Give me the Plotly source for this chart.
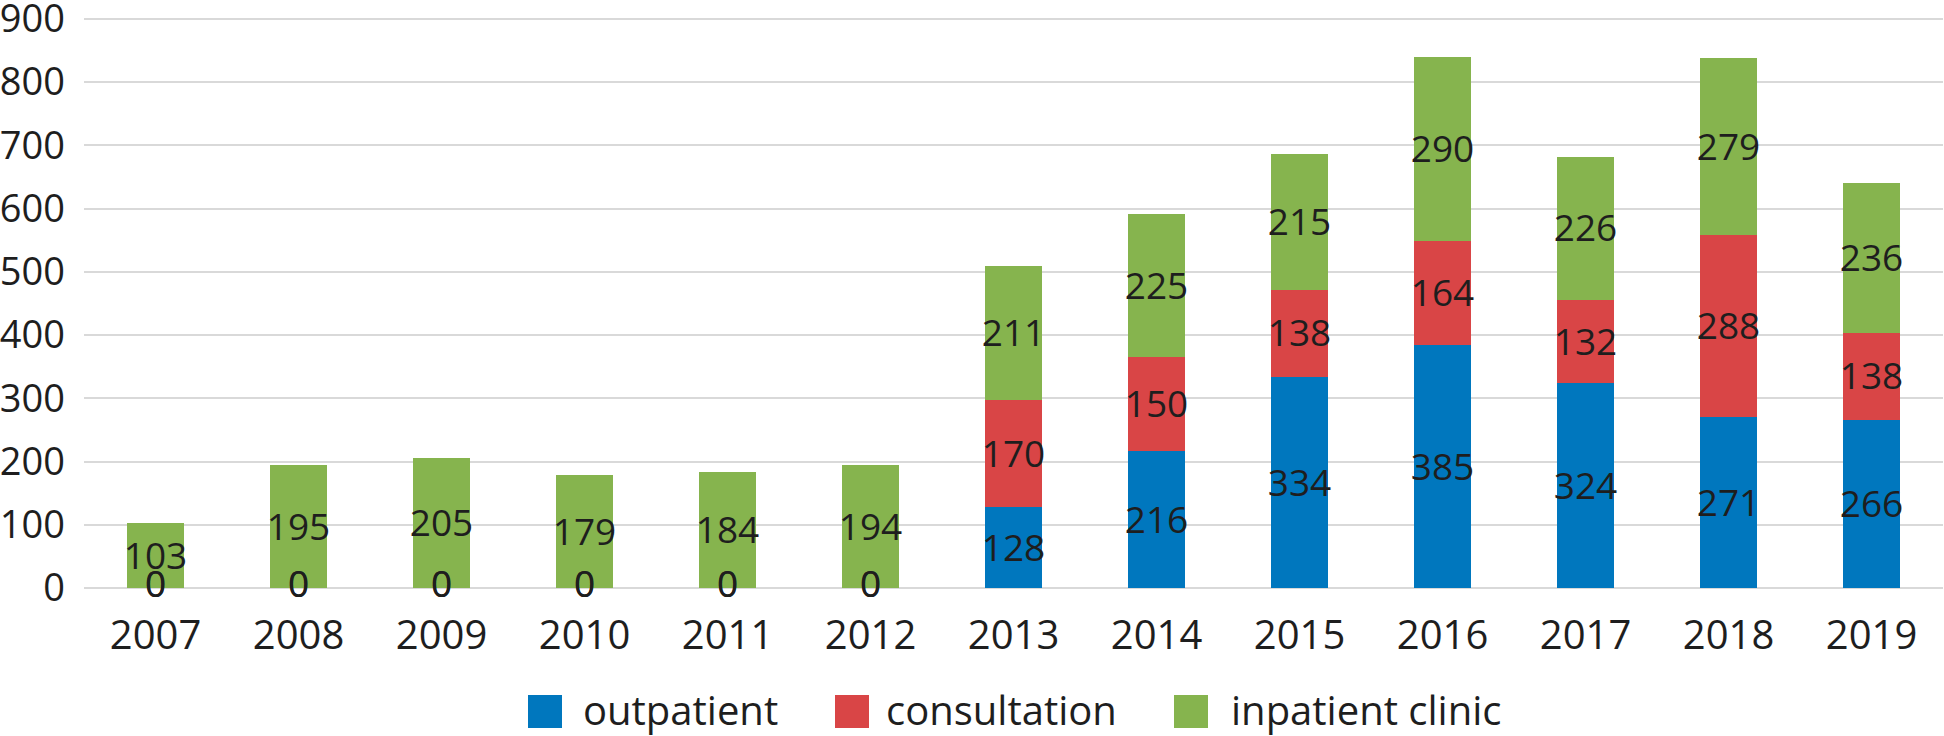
import plotly.graph_objects as go

years = ["2007", "2008", "2009", "2010", "2011", "2012", "2013",
         "2014", "2015", "2016", "2017", "2018", "2019"]
outpatient = [0, 0, 0, 0, 0, 0, 128, 216, 334, 385, 324, 271, 266]
consultation = [0, 0, 0, 0, 0, 0, 170, 150, 138, 164, 132, 288, 138]
inpatient = [103, 195, 205, 179, 184, 194, 211, 225, 215, 290, 226, 279, 236]
y_ticks = [0, 100, 200, 300, 400, 500, 600, 700, 800, 900]

series_names = ["outpatient", "consultation", "inpatient clinic"]
series_values = [outpatient, consultation, inpatient]
colors = ["#0077BE", "#D94546", "#86B44E"]

FONT = "Open Sans"
TXT = "#1e1e1e"
FS = 40
FS_Y = 38
FS_LBL = 37

W, H = 1944, 736
ML, MR, MT, MB = 84, 1, 17, 148
PW, PH = W - ML - MR, H - MT - MB
Y_MAX = 903
LABEL_DROP_PX = 4
drop = LABEL_DROP_PX * Y_MAX / PH

fig = go.Figure()
base = [0] * len(years)
for name, vals, col in zip(series_names, series_values, colors):
    fig.add_trace(go.Bar(
        x=years, y=vals, name=name, marker=dict(color=col, line=dict(width=0)),
        showlegend=False, hoverinfo="x+y+name",
    ))
    mids = [max(b + v / 2 - drop, 0) for b, v in zip(base, vals)]
    fig.add_trace(go.Scatter(
        x=years, y=mids, mode="text", text=[str(v) for v in vals],
        textfont=dict(family=FONT, size=FS_LBL, color=TXT),
        textposition="middle center", showlegend=False, hoverinfo="skip",
        cliponaxis=False,
    ))
    base = [b + v for b, v in zip(base, vals)]


def px_x(p):
    return (p - ML) / PW


def px_y(p):
    return (H - MB - p) / PH


# manual legend (large square swatches like the original)
swatch_x = [528, 835, 1174]
text_x = [582, 885, 1230]
for name, col, sx, tx in zip(series_names, colors, swatch_x, text_x):
    fig.add_shape(type="rect", xref="paper", yref="paper",
                  x0=px_x(sx), x1=px_x(sx + 34), y0=px_y(728), y1=px_y(695),
                  fillcolor=col, line=dict(width=0))
    fig.add_annotation(xref="paper", yref="paper", x=px_x(tx), y=px_y(709),
                       xanchor="left", yanchor="middle", text=name, showarrow=False,
                       borderpad=0,
                       font=dict(family=FONT, size=FS, color=TXT))

fig.update_layout(
    width=W, height=H, barmode="stack", bargap=0.6,
    margin=dict(l=ML, r=MR, t=MT, b=MB, pad=0, autoexpand=False),
    plot_bgcolor="white", paper_bgcolor="white",
    font=dict(family=FONT, size=FS, color=TXT),
    showlegend=False,
    xaxis=dict(type="category", range=[-0.5, len(years) - 0.5], showgrid=False,
               showline=False, ticks="",
               tickfont=dict(family=FONT, size=FS, color=TXT),
               ticklabelstandoff=20, zeroline=False, automargin=False),
    yaxis=dict(range=[0, Y_MAX], tickvals=y_ticks,
               showgrid=True, gridcolor="#d9d9d9", gridwidth=2, zeroline=True,
               zerolinecolor="#d9d9d9", zerolinewidth=2, showline=False,
               ticks="", tickfont=dict(family=FONT, size=FS_Y, color=TXT),
               ticklabelstandoff=18, ticklabeloverflow="allow", automargin=False),
)

fig.write_html("out.html", config={"displayModeBar": False},
               post_script="document.body.style.margin='0';document.body.style.overflow='hidden';")
